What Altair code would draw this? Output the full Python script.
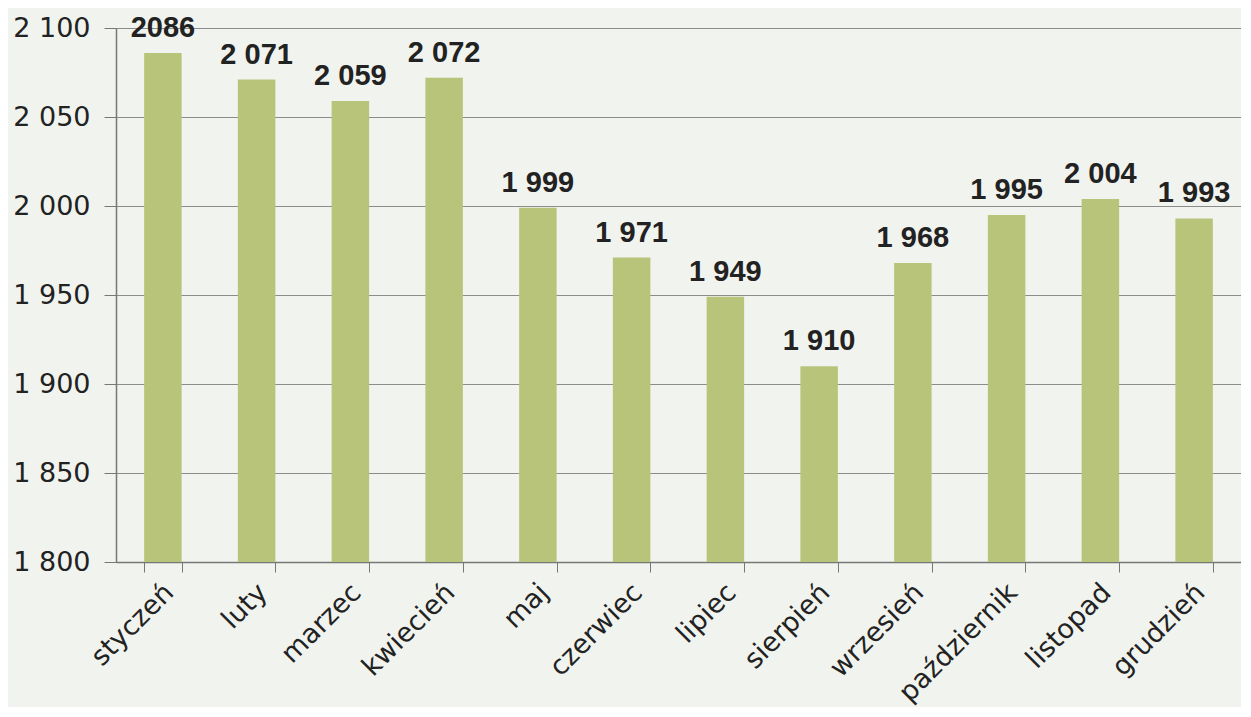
import altair as alt
import pandas as pd

months = ["styczeń", "luty", "marzec", "kwiecień", "maj", "czerwiec", "lipiec",
          "sierpień", "wrzesień", "październik", "listopad", "grudzień"]
values = [2086, 2071, 2059, 2072, 1999, 1971, 1949, 1910, 1968, 1995, 2004, 1993]
labels = ["2086", "2 071", "2 059", "2 072", "1 999", "1 971", "1 949", "1 910",
          "1 968", "1 995", "2 004", "1 993"]
y_ticks = [1800, 1850, 1900, 1950, 2000, 2050, 2100]

df = pd.DataFrame({"month": months, "value": values, "label": labels})

x = alt.X("month:N", sort=months, title=None,
          scale=alt.Scale(paddingInner=0.6, paddingOuter=0.3),
          axis=alt.Axis(labelAngle=-45, labelAlign="right", labelBaseline="middle",
                        labelFont="DejaVu Sans", labelFontSize=27, labelColor="#222222",
                        labelPadding=16, labelOffset=6, tickBand="extent", tickSize=10,
                        tickColor="#777777", domainColor="#777777", domainWidth=1.5,
                        grid=False))
y = alt.Y("value:Q", title=None,
          scale=alt.Scale(domain=[1800, 2100], nice=False, zero=False),
          axis=alt.Axis(values=y_ticks,
                        labelExpr="replace(format(datum.value, ','), ',', ' ')",
                        labelFont="DejaVu Sans", labelFontSize=27, labelColor="#222222",
                        labelPadding=14, tickSize=12, tickColor="#777777",
                        domainColor="#777777", domainWidth=1.5,
                        grid=True, gridColor="#8c8c8c", gridWidth=1.2))

bars = alt.Chart(df).mark_bar(color="#b9c47b", clip=True).encode(x=x, y=y)
text = alt.Chart(df).mark_text(font="Liberation Sans", fontWeight="bold", fontSize=29,
                               color="#222222", dy=-16, baseline="alphabetic").encode(
    x=x, y=y, text="label:N")

chart = (bars + text).properties(
    width=1125, height=534, background="#f1f3ee",
    padding={"left": 4, "top": 5, "right": 0, "bottom": 0}
).configure_view(strokeWidth=0)

chart.save("out.html", embed_options={"renderer": "svg", "actions": False})
